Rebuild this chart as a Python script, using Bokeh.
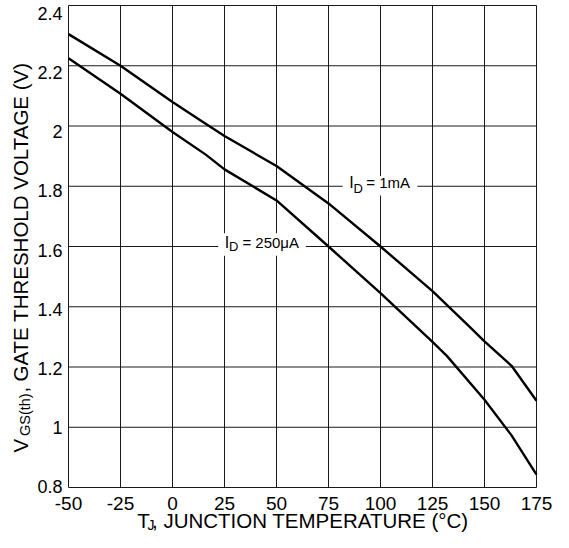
import math
from bokeh.plotting import figure
from bokeh.models import Range1d, Label, ColumnDataSource, BoxAnnotation
from bokeh.core.properties import value
from bokeh.embed import file_html
from bokeh.resources import INLINE

# ---- data ----
temp_1ma = [-50, -25, 0, 15, 25, 50, 75, 100, 125, 142, 150, 163, 175]
vgs_1ma = [2.305, 2.200, 2.080, 2.012, 1.967, 1.867, 1.743, 1.600, 1.452, 1.339, 1.285, 1.204, 1.088]

temp_250ua = [-50, -25, 0, 16, 25, 50, 75, 100, 125, 132, 150, 163, 175]
vgs_250ua = [2.225, 2.107, 1.980, 1.905, 1.856, 1.753, 1.600, 1.445, 1.283, 1.236, 1.091, 0.973, 0.843]

x_ticks = [-50, -25, 0, 25, 50, 75, 100, 125, 150, 175]
x_tick_labels = ["-50", "-25", "0", "25", "50", "75", "100", "125", "150", "175"]
y_ticks = [0.8, 1.0, 1.2, 1.4, 1.6, 1.8, 2.0, 2.2, 2.4]
y_tick_labels = ["0.8", "1", "1.2", "1.4", "1.6", "1.8", "2", "2.2", "2.4"]

x_title_main = ", JUNCTION TEMPERATURE (°C)"
y_title_main = "GATE THRESHOLD VOLTAGE (V)"

# ---- layout (pixels on the canvas) ----
W, H = 553, 532
FL, FR, FT, FB = 68.0, 536.0, 5.0, 487.0          # plot area
XMIN, XMAX, YMIN, YMAX = -50, 175, 0.8, 2.4
FONT = "Liberation Sans"
SX = (XMAX - XMIN) / (FR - FL)
SY = (YMAX - YMIN) / (FB - FT)


def dx(px):
    return XMIN + (px - FL) * SX


def dy(py):
    return YMAX - (py - FT) * SY


# positions (its plot area: x 72.6..542.7, y 5..500)
def rdx(px):
    return XMIN + (px - 72.6) * (XMAX - XMIN) / 470.1


def rdy(py):
    return YMAX - (py - 5.0) * (YMAX - YMIN) / 495.0


p = figure(width=W, height=H,
           x_range=Range1d(dx(0), dx(W)), y_range=Range1d(dy(H), dy(0)),
           output_backend="svg", toolbar_location=None,
           x_axis_location=None, y_axis_location=None,
           min_border=0, min_border_left=0, min_border_right=0,
           min_border_top=0, min_border_bottom=0)
p.background_fill_color = "white"
p.border_fill_color = "white"
p.outline_line_color = None
p.grid.grid_line_color = None

GRID = "#1a1a1a"
# grid lines (these also form the plot frame)
p.segment(x0=x_ticks, y0=[YMIN] * len(x_ticks), x1=x_ticks, y1=[YMAX] * len(x_ticks),
          line_color=GRID, line_width=1)
p.segment(x0=[XMIN] * len(y_ticks), y0=y_ticks, x1=[XMAX] * len(y_ticks), y1=y_ticks,
          line_color=GRID, line_width=1)

# curves
p.line(temp_1ma, vgs_1ma, line_color="black", line_width=2.4, line_join="round")
p.line(temp_250ua, vgs_250ua, line_color="black", line_width=2.4, line_join="round")

# tick labels
xsrc = ColumnDataSource(dict(x=x_ticks, y=[dy(502.5)] * len(x_ticks), text=x_tick_labels))
p.text(x="x", y="y", text="text", source=xsrc, text_align="center", text_baseline="middle",
       text_font=value(FONT), text_font_size=value("19px"), text_color="black")
# the reference's y labels sit slightly below their grid lines near the top, on them at the bottom
y_label_pos = [t - (-1 + 9 * (t - YMIN) / (YMAX - YMIN)) * SY for t in y_ticks]
ysrc = ColumnDataSource(dict(x=[dx(62)] * len(y_ticks), y=y_label_pos, text=y_tick_labels))
p.text(x="x", y="y", text="text", source=ysrc, text_align="right", text_baseline="middle",
       text_font=value(FONT), text_font_size=value("18px"), text_color="black")


def lab(x, y, text, size, angle=0.0):
    p.add_layout(Label(x=x, y=y, text=text, text_font=FONT, text_font_size=size,
                       text_align="left", text_baseline="middle", text_color="black",
                       angle=angle))


# x title
lab(dx(136.8), dy(520), "T", "20.5px")
lab(dx(147.0), dy(524.5), "J", "14px")
lab(dx(151.5), dy(520), x_title_main, "20.5px")

# y title (rotated)
lab(dx(20.0), dy(452), "V", "20.5px", math.pi / 2)
lab(dx(24.0), dy(435.5), "GS(th)", "14.5px", math.pi / 2)
lab(dx(20.0), dy(392), ",", "20.5px", math.pi / 2)
lab(dx(20.0), dy(381), y_title_main, "20.5px", math.pi / 2)

# curve annotations with white backing
p.add_layout(BoxAnnotation(left=rdx(348), right=rdx(423), top=rdy(180), bottom=rdy(200),
                           fill_color="white", fill_alpha=1.0, line_color=None))
p.add_layout(BoxAnnotation(left=rdx(223), right=rdx(311), top=rdy(239), bottom=rdy(262),
                           fill_color="white", fill_alpha=1.0, line_color=None))

lab(rdx(354.5), rdy(186.7), "I", "16px")
lab(rdx(358.8), rdy(193.3), "D", "13px")
lab(rdx(371.7), rdy(187.0), "= 1mA", "15px")

lab(rdx(229.5), rdy(248.5), "I", "16px")
lab(rdx(233.8), rdy(252.5), "D", "13px")
lab(rdx(247.3), rdy(248.0), "= 250μA", "15px")

open("out.html", "w").write(file_html(p, INLINE))
